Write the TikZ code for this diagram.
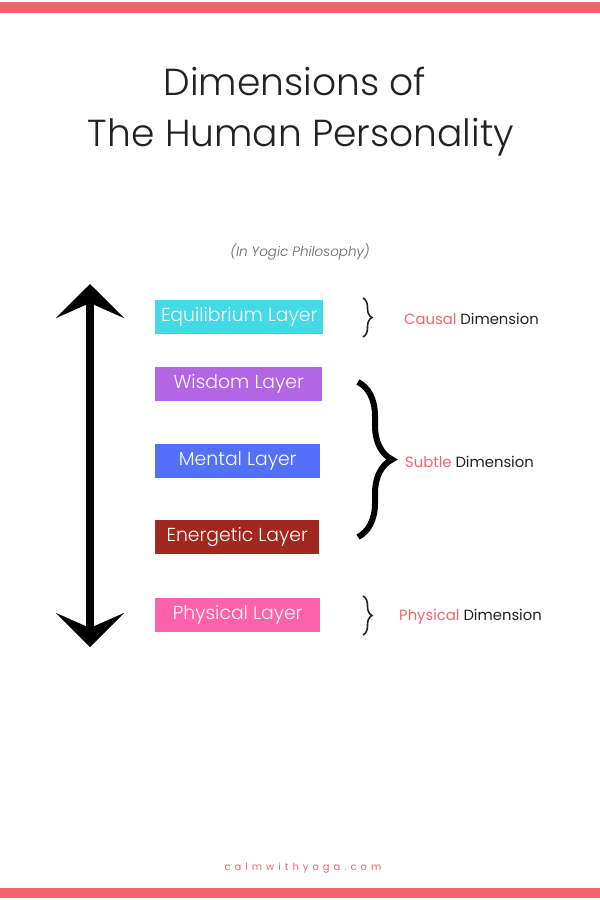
\documentclass[tikz,border=0pt]{standalone}
\usepackage{fontspec}
\usetikzlibrary{arrows.meta,decorations.pathreplacing}
\newfontfamily\lightf{Poppins Light}
\newfontfamily\regf{Poppins}
\newfontfamily\itf{Poppins Light Italic}
\newfontfamily\spacedf[LetterSpace=40]{Poppins}
\definecolor{barc}{HTML}{F2636E}
\definecolor{eqc}{HTML}{45D9E6}
\definecolor{wic}{HTML}{B266E3}
\definecolor{mec}{HTML}{5470F8}
\definecolor{enc}{HTML}{A1271F}
\definecolor{phc}{HTML}{FF62AD}
\definecolor{darkc}{HTML}{222222}
\definecolor{grayc}{HTML}{666666}
\tikzset{headtip/.tip={Stealth[length=34pt, width=68pt, inset=15pt]}}
\begin{document}
\begin{tikzpicture}[x=1pt,y=-1pt,
  layerbox/.style={rectangle, inner sep=0pt, minimum height=34pt, anchor=west, text=white, font=\lightf\fontsize{18.8}{20}\selectfont},
  dimlabel/.style={anchor=west, inner sep=0pt, text=darkc, font=\regf\fontsize{14.8}{16}\selectfont},
  smallbrace/.style={decorate, decoration={brace, amplitude=9pt}, line width=1.6pt, draw=darkc},
  bigbrace/.style={decorate, decoration={brace, amplitude=34pt}, line width=6pt, draw=black},
  titletext/.style={font=\lightf\fontsize{37.6}{40}\selectfont, text=darkc}
]
\useasboundingbox (0,0) rectangle (600,900);
\fill[white] (0,0) rectangle (600,900);
% bars
\fill[barc] (0,2) rectangle (600,12.5);
\fill[barc] (0,888) rectangle (600,898);
% title
\node[titletext] (t1) at (295,81) {Dimensions of};
\node[titletext] (t2) at (301,137) {The Human Personality};
\node[font=\itf\fontsize{13.5}{15}\selectfont, text=grayc] (sub) at (300,252) {(In Yogic Philosophy)};
% arrow
\coordinate (atop) at (90,284);
\coordinate (abot) at (90,647);
\draw[line width=8pt, {headtip}-{headtip}] (atop) -- (abot);
% layers
\node[layerbox, fill=eqc, minimum width=168pt] (eq) at (155,317) {\raisebox{-1.5pt}{Equilibrium Layer}};
\node[layerbox, fill=wic, minimum width=167pt] (wi) at (155,384) {\raisebox{-1.5pt}{Wisdom Layer}};
\node[layerbox, fill=mec, minimum width=165pt] (me) at (155,460.5) {\raisebox{-1.5pt}{Mental Layer}};
\node[layerbox, fill=enc, minimum width=164pt] (en) at (155,537) {\raisebox{-1.5pt}{Energetic Layer}};
\node[layerbox, fill=phc, minimum width=165pt] (ph) at (155,615) {\raisebox{-1.5pt}{Physical Layer}};
% braces
\coordinate (cb1) at (363,298);
\coordinate (cb2) at (363,337);
\draw[smallbrace] (cb1) -- (cb2);
\coordinate (sb1) at (358,382);
\coordinate (sb2) at (358,537);
\draw[bigbrace] (sb1) -- (sb2);
\coordinate (pb1) at (363,596);
\coordinate (pb2) at (363,635);
\draw[smallbrace] (pb1) -- (pb2);
% dimension labels
\node[dimlabel] (cd) at (404,319) {\textcolor{barc}{Causal} Dimension};
\node[dimlabel] (sd) at (405,462) {\textcolor{barc}{Subtle} Dimension};
\node[dimlabel] (pd) at (399,617) {\textcolor{barc}{Physical} Dimension};
% footer
\node[font=\spacedf\fontsize{10}{12}\selectfont, text=barc] (ft) at (303,868) {calmwithyoga.com};
\end{tikzpicture}
\end{document}
